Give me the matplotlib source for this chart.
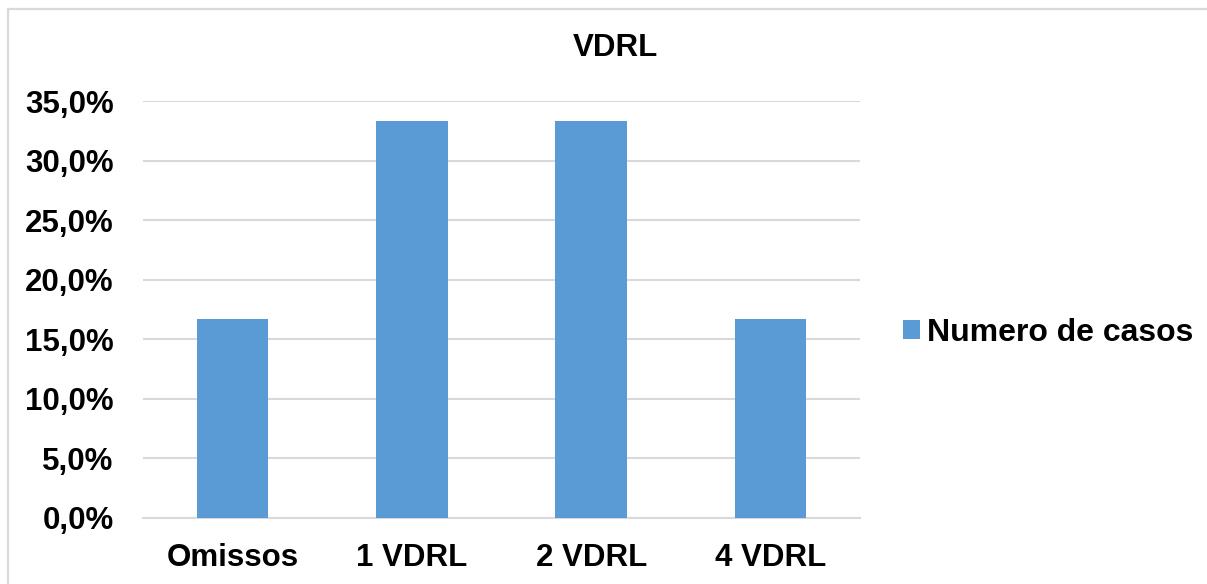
import matplotlib
matplotlib.use("Agg")
import matplotlib.pyplot as plt
from matplotlib.patches import Rectangle
import numpy as np

categories = ["Omissos", "1 VDRL", "2 VDRL", "4 VDRL"]
percentages = [16.67, 33.33, 33.33, 16.67]
series_name = "Numero de casos"
title = "VDRL"
y_ticks = [0, 5, 10, 15, 20, 25, 30, 35]

plt.rcParams["font.family"] = ["Liberation Sans", "DejaVu Sans"]
plt.rcParams["font.weight"] = "bold"

W, H = 1207, 584
fig = plt.figure(figsize=(W / 100, H / 100), dpi=100)
fig.patch.set_facecolor("white")

# chart-area border (extends past the right and bottom edges)
fig.add_artist(Rectangle((8 / W, -0.05), 1.2, 1 - 9 / H + 0.05,
                         transform=fig.transFigure, fill=False,
                         edgecolor="#d9d9d9", linewidth=1.6))

ax = fig.add_axes([143 / W, 66 / H, (860 - 143) / W, (518 - 101) / H])
x = np.arange(len(categories))
bars = ax.bar(x, percentages, width=0.4, color="#5B9BD5", label=series_name,
              zorder=3)

ax.set_xlim(-0.5, len(categories) - 0.5)
ax.set_ylim(0, 35)
ax.set_yticks(y_ticks)
ax.set_yticklabels([f"{v:.1f}%".replace(".", ",") for v in y_ticks])
ax.set_xticks(x)
ax.set_xticklabels(categories)
ax.tick_params(axis="both", length=0, labelsize=22.5, colors="black")
ax.tick_params(axis="y", pad=21)
ax.tick_params(axis="x", pad=18)
for lbl in ax.get_xticklabels() + ax.get_yticklabels():
    lbl.set_fontweight("bold")

ax.grid(axis="y", color="#d9d9d9", linewidth=1.5, zorder=0)
for side in ["top", "right", "left"]:
    ax.spines[side].set_visible(False)
ax.spines["bottom"].set_color("#d9d9d9")
ax.spines["bottom"].set_linewidth(1.5)

fig.text(615 / W, 1 - 48 / H, title, ha="center", va="center",
         fontsize=22.5, fontweight="bold")

fig.legend(handles=[bars], labels=[series_name], loc="center left",
           bbox_to_anchor=(903 / W, 1 - 333 / H), frameon=False,
           handlelength=0.53, handleheight=0.53, handletextpad=0.22,
           borderpad=0, borderaxespad=0,
           prop={"size": 23, "weight": "bold"})

fig.savefig("out.png", dpi=100, facecolor="white")
